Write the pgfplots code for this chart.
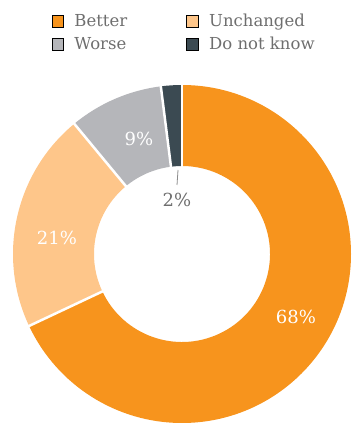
\documentclass[border=0pt]{standalone}
\usepackage{pgfplots}
\pgfplotsset{compat=1.18}
\usepackage{pgfplotstable}
\usepackage{fontspec}
\setmainfont{DejaVu Serif}
\usetikzlibrary{calc}
\definecolor{cBetter}{HTML}{F7941D}
\definecolor{cUnch}{HTML}{FEC68A}
\definecolor{cWorse}{HTML}{B5B6BA}
\definecolor{cDnk}{HTML}{3B4A52}
\definecolor{txt}{HTML}{6E6E6E}

\pgfplotstableread{
name value
Better 68
Unchanged 21
Worse 9
DNK 2
}\data

\pgfplotsset{sqlegend/.style={legend image code/.code={\fill[##1] (0pt,-5.5pt) rectangle (11.5pt,6pt);}}}

\def\cx{182}\def\cy{169}
\newcommand\donutwedge[3]{%
  \fill[#3] (axis cs:\cx,\cy) ++(#1:169pt) arc[start angle=#1,end angle=#2,radius=169pt]
    -- ($(axis cs:\cx,\cy)+(#2:88pt)$) arc[start angle=#2,end angle=#1,radius=88pt] -- cycle;}
\newcommand\sep[1]{%
  \draw[white,line width=2.5pt] ($(axis cs:\cx,\cy)+(#1:85pt)$) -- ($(axis cs:\cx,\cy)+(#1:175pt)$);}

\begin{document}
\begin{tikzpicture}
\pgfplotstablegetelem{0}{value}\of\data \let\vA\pgfplotsretval
\pgfplotstablegetelem{1}{value}\of\data \let\vB\pgfplotsretval
\pgfplotstablegetelem{2}{value}\of\data \let\vC\pgfplotsretval
\pgfplotstablegetelem{3}{value}\of\data \let\vD\pgfplotsretval
\pgfmathsetmacro\aA{90}
\pgfmathsetmacro\aB{90-3.6*\vA}
\pgfmathsetmacro\aC{\aB-3.6*\vB}
\pgfmathsetmacro\aD{\aC-3.6*\vC}
\pgfmathsetmacro\aE{\aD-3.6*\vD}
\begin{axis}[
  width=352pt,height=423pt,scale only axis,
  xmin=0,xmax=352,ymin=0,ymax=423,
  hide axis,
  legend columns=2,
  legend cell align=left,
  legend style={at={(0.523,0.976)},anchor=north,draw=none,fill=none,
    font=\fontsize{16.5}{19}\selectfont,text=txt,
    /tikz/every odd column/.append style={column sep=9pt},
    /tikz/every even column/.append style={column sep=57pt},
    row sep=5pt},
]
\path (axis cs:0,0) rectangle (axis cs:352,423);
\addlegendimage{sqlegend,fill=cBetter}\addlegendentry{Better}
\addlegendimage{sqlegend,fill=cUnch}\addlegendentry{Unchanged}
\addlegendimage{sqlegend,fill=cWorse}\addlegendentry{Worse}
\addlegendimage{sqlegend,fill=cDnk}\addlegendentry{Do not know}
\donutwedge{\aA}{\aB}{cBetter}
\donutwedge{\aB}{\aC}{cUnch}
\donutwedge{\aC}{\aD}{cWorse}
\donutwedge{\aD}{\aE}{cDnk}
\sep{\aA}\sep{\aB}\sep{\aC}\sep{\aD}
\node[white,font=\fontsize{18}{20}\selectfont] at (axis cs:296,106) {68\%};
\node[white,font=\fontsize{18}{20}\selectfont] at (axis cs:57,185) {21\%};
\node[white,font=\fontsize{18}{20}\selectfont] at (axis cs:139,284) {9\%};
\node[txt,font=\fontsize{18}{20}\selectfont] at (axis cs:177,223) {2\%};
\draw[txt!80,line width=0.8pt] (axis cs:178,253) -- (axis cs:177,238);
\end{axis}
\end{tikzpicture}
\end{document}
